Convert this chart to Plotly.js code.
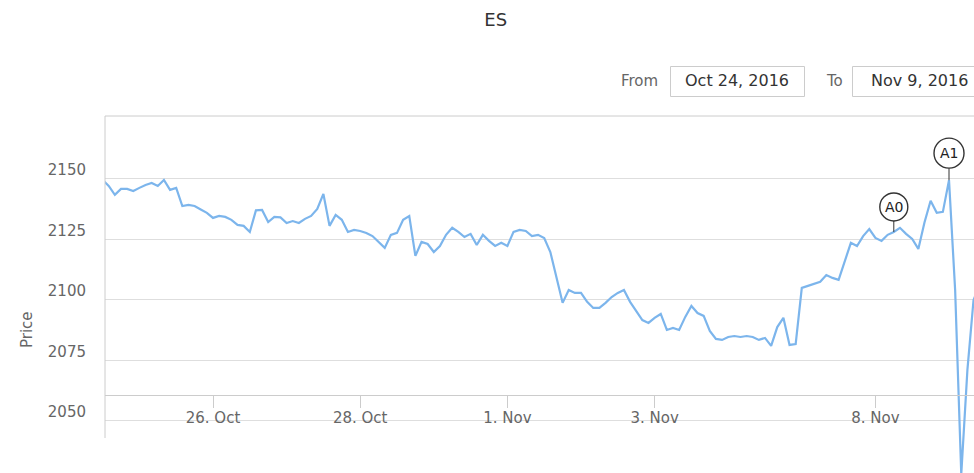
<!DOCTYPE html>
<html>
<head>
<meta charset="utf-8">
<script src="https://cdn.plot.ly/plotly-3.0.1.min.js"></script>
<style>html,body{margin:0;padding:0;background:#fff;}#chart{width:974px;height:473px;}</style>
</head>
<body>
<div id="chart"></div>
<script>
// ---- data (ES price, sampled every 2 hours, UTC) ----
const tradingDays = ['2016-10-24','2016-10-25','2016-10-26','2016-10-27','2016-10-28','2016-10-31',
                     '2016-11-01','2016-11-02','2016-11-03','2016-11-04','2016-11-07','2016-11-08','2016-11-09'];
const sampleHours = ['00','02','04','06','08','10','12','14','16','18','20','22'];
const oct24 = [null,null,null,null,null,null,2149.6,2147.1,2143.4,2145.9,2145.9,2145.0];
const oct25 = [2146.3,2147.5,2148.3,2147.1,2149.6,2145.5,2146.3,2138.8,2139.3,2138.8,2137.4,2136.0];
const oct26 = [2133.9,2134.7,2134.3,2133.1,2131.0,2130.6,2128.1,2137.0,2137.2,2132.2,2134.3,2134.1];
const oct27 = [2131.8,2132.6,2131.8,2133.5,2134.7,2137.6,2143.8,2130.6,2135.1,2133.1,2128.1,2128.9];
const oct28 = [2128.5,2127.7,2126.4,2124.0,2121.5,2126.9,2127.7,2133.1,2134.7,2118.2,2124.0,2123.1];
const oct31 = [2119.8,2122.3,2126.9,2129.8,2128.1,2126.0,2127.3,2122.7,2126.9,2124.4,2122.3,2123.6];
const nov01 = [2122.3,2128.1,2128.9,2128.5,2126.4,2126.9,2125.6,2119.8,2109.9,2098.8,2104.1,2102.9];
const nov02 = [2102.9,2099.2,2096.7,2096.7,2098.8,2101.2,2102.9,2104.1,2099.2,2095.5,2091.7,2090.5];
const nov03 = [2092.6,2094.2,2087.6,2088.4,2087.6,2093.0,2097.5,2094.6,2093.4,2087.2,2083.9,2083.5];
const nov04 = [2084.7,2085.1,2084.7,2085.1,2084.7,2083.5,2084.3,2081.0,2088.8,2092.6,2081.4,2081.8];
const nov07 = [2105.0,2105.8,2106.6,2107.5,2110.3,2109.1,2108.3,2115.7,2123.6,2122.3,2126.4,2129.3];
const nov08 = [2125.6,2124.4,2126.9,2128.1,2129.8,2127.3,2125.2,2121.1,2132.0,2141.0,2136.0,2136.4];
const nov09 = [2149.5,2104.1,2028.0,2071.1,2100.0,2106.0,null,null,null,null,null,null];
const dayRows = [oct24,oct25,oct26,oct27,oct28,oct31,nov01,nov02,nov03,nov04,nov07,nov08,nov09];

const tickDates = ['2016-10-26','2016-10-28','2016-11-01','2016-11-03','2016-11-08'];
const tickLabels = ['26. Oct','28. Oct','1. Nov','3. Nov','8. Nov'];
const yTicks = [2050,2075,2100,2125,2150];

const flagTimes = ['2016-11-08 06:00','2016-11-09 00:00'];
const flagTexts = ['A0','A1'];

const fromLabel = 'Oct 24, 2016';
const toLabel = 'Nov 9, 2016';

// ---- build series table ----
const xs = [], ys = [];
tradingDays.forEach((d, i) => {
  sampleHours.forEach((h, j) => {
    const v = dayRows[i][j];
    if (v !== null) { xs.push(d + ' ' + h + ':00'); ys.push(v); }
  });
});
const lookup = {};
xs.forEach((x, i) => { lookup[x] = ys[i]; });

// ---- layout helpers (pixel -> paper) ----
const L = 105, R = 974, T = 116, B = 473;
const px = x => (x - L) / (R - L);
const py = y => (B - y) / (B - T);
const FONT = 'DejaVu Sans';

const shapes = [
  {type:'line', xref:'paper', yref:'paper', x0:0, x1:1.02, y0:1, y1:1, line:{color:'#cccccc', width:1}},
  {type:'line', xref:'paper', yref:'paper', x0:0, x1:0, y0:py(438), y1:1, line:{color:'#cccccc', width:1}},
  {type:'rect', xref:'paper', yref:'paper', x0:px(670.5), x1:px(804.5), y0:py(96.5), y1:py(66.5), line:{color:'#cccccc', width:1}, fillcolor:'rgba(0,0,0,0)'},
  {type:'rect', xref:'paper', yref:'paper', x0:px(852.5), x1:px(990), y0:py(96.5), y1:py(66.5), line:{color:'#cccccc', width:1}, fillcolor:'rgba(0,0,0,0)'}
];
const annotations = [
  {text:'From', xref:'paper', yref:'paper', x:px(639), y:py(81), showarrow:false, xanchor:'center', yanchor:'middle', font:{family:FONT, size:15, color:'#666666'}},
  {text:'To', xref:'paper', yref:'paper', x:px(834), y:py(81), showarrow:false, xanchor:'center', yanchor:'middle', font:{family:FONT, size:15, color:'#666666'}},
  {text:fromLabel, xref:'paper', yref:'paper', x:px(737), y:py(81), showarrow:false, xanchor:'center', yanchor:'middle', font:{family:FONT, size:16, color:'#333333'}},
  {text:toLabel, xref:'paper', yref:'paper', x:px(919), y:py(81), showarrow:false, xanchor:'center', yanchor:'middle', font:{family:FONT, size:16, color:'#333333'}},
  {text:'Price', xref:'paper', yref:'paper', x:px(27), y:py(330), showarrow:false, textangle:-90, xanchor:'center', yanchor:'middle', font:{family:FONT, size:15, color:'#666666'}}
];
flagTimes.forEach((t, i) => {
  const v = lookup[t];
  const r = i === 1 ? 15 : 14, off = 25 + (i === 1 ? 2 : 0);
  shapes.push({type:'line', xref:'x', yref:'y', xsizemode:'pixel', ysizemode:'pixel', xanchor:t, yanchor:v,
               x0:0, x1:0, y0:0, y1:off - r, line:{color:'#333333', width:1}});
  shapes.push({type:'circle', xref:'x', yref:'y', xsizemode:'pixel', ysizemode:'pixel', xanchor:t, yanchor:v,
               x0:-r, x1:r, y0:off - r, y1:off + r, line:{color:'#333333', width:1.4}, fillcolor:'#ffffff'});
  annotations.push({text:flagTexts[i], xref:'x', yref:'y', x:t, y:v, yshift:off, showarrow:false,
                    xanchor:'center', yanchor:'middle', font:{family:FONT, size:14, color:'#222222'}});
});

const trace = {
  type:'scatter', mode:'lines', x:xs, y:ys,
  line:{color:'#7cb5ec', width:2.2}, hoverinfo:'x+y', connectgaps:false
};

const layout = {
  width:974, height:473,
  margin:{l:L, r:0, t:T, b:0, pad:0},
  paper_bgcolor:'#ffffff', plot_bgcolor:'#ffffff',
  showlegend:false,
  title:{text:'ES', xref:'container', yref:'container', x:0.509, y:1 - 20/473, xanchor:'center', yanchor:'middle',
         font:{family:FONT, size:18, color:'#333333'}},
  xaxis:{
    type:'date', range:['2016-10-24 12:47','2016-11-09 08:09'],
    rangebreaks:[{bounds:['sat','mon']}],
    tickmode:'array', tickvals:tickDates, ticktext:tickLabels,
    showgrid:false, zeroline:false,
    showline:true, linecolor:'#cccccc', linewidth:1,
    ticks:'outside', ticklen:12, tickcolor:'#cccccc', tickwidth:1,
    tickfont:{family:FONT, size:15, color:'#666666'},
    ticklabelstandoff:-3,
    anchor:'free', position:py(395), automargin:false
  },
  yaxis:{
    range:[2028.5, 2176.0],
    tickmode:'array', tickvals:yTicks,
    showgrid:true, gridcolor:'#dedede', gridwidth:1,
    zeroline:false, showline:false, ticks:'',
    tickfont:{family:FONT, size:15, color:'#666666'},
    ticklabelstandoff:18, ticklabelshift:-9, automargin:false
  },
  shapes:shapes,
  annotations:annotations
};

Plotly.newPlot('chart', [trace], layout, {displayModeBar:false, staticPlot:true});
</script>
</body>
</html>
